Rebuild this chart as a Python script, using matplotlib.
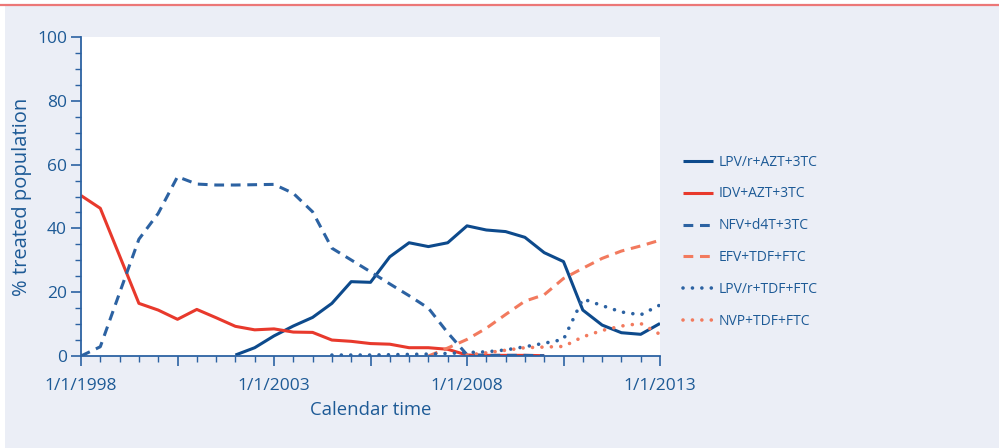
import numpy as np
import matplotlib
matplotlib.use("Agg")
import matplotlib.pyplot as plt
from matplotlib.lines import Line2D
from matplotlib.patches import Rectangle

nan = np.nan

# half-yearly time points, 1/1/1998 .. 1/1/2013
years = [1998 + 0.5 * i for i in range(31)]

lpv_azt = [nan] * 8 + [0.3, 2.6, 6.3, 9.4, 12.1, 16.5, 23.3, 23.1, 31.1, 35.5, 34.3, 35.5,
                       40.8, 39.5, 39.0, 37.2, 32.4, 29.6, 14.4, 9.7, 7.3, 6.8, 10.2]
idv_azt = [50.3, 46.3, 31.4, 16.5, 14.4, 11.5, 14.6, 12.0, 9.3, 8.2, 8.5, 7.5, 7.4, 5.0, 4.6,
           3.9, 3.7, 2.6, 2.6, 2.1, 0.3, 0.2, 0.2, 0.2, 0.1] + [nan] * 6
nfv_d4t = [0.0, 2.9, 19.8, 36.6, 44.7, 56.2, 53.9, 53.6, 53.6, 53.7, 53.8, 51.0, 45.2, 33.8,
           30.1, 26.4, 22.6, 18.9, 15.0, 7.3, 0.4, 0.2, 0.2, 0.2, 0.1] + [nan] * 6
efv_tdf = [nan] * 18 + [0.0, 2.5, 5.2, 8.7, 13.0, 17.2, 19.2, 24.3, 27.5, 30.6, 32.9, 34.5, 36.3]
lpv_tdf = [nan] * 13 + [0.3, 0.3, 0.3, 0.4, 0.5, 0.6, 0.8, 1.1, 1.3, 1.9, 2.9, 4.0, 5.2, 17.9,
                        15.8, 13.8, 12.9, 16.0]
nvp_tdf = [nan] * 20 + [0.3, 1.0, 1.8, 2.6, 2.8, 3.0, 6.0, 8.0, 9.4, 10.2, 6.8]

labels = ["LPV/r+AZT+3TC", "IDV+AZT+3TC", "NFV+d4T+3TC",
          "EFV+TDF+FTC", "LPV/r+TDF+FTC", "NVP+TDF+FTC"]

plt.rcParams['font.family'] = ['Open Sans', 'DejaVu Sans']
txt = '#1d5a96'
bg = '#ebeef6'
darkblue = '#0d4a8c'
blue = '#2c62a2'
red = '#e8392c'
salmon = '#f27a5e'

fig = plt.figure(figsize=(9.99, 4.48), dpi=100, facecolor=bg)
# white top strip and salmon rule
fig.patches.append(Rectangle((0, 1 - 4 / 448), 1, 4 / 448, transform=fig.transFigure,
                             facecolor='white', edgecolor='none', zorder=0))
fig.patches.append(Rectangle((0, 0), 5 / 999, 1, transform=fig.transFigure,
                             facecolor='white', edgecolor='none', zorder=0))
fig.add_artist(Line2D([0, 1], [1 - 5 / 448, 1 - 5 / 448], transform=fig.transFigure,
                      color='#ec7777', lw=1.6))

ax = fig.add_axes([81 / 999, 92 / 448, 579 / 999, 319 / 448])
ax.set_facecolor('white')

x = np.array(years)
ax.plot(x, lpv_azt, color=darkblue, lw=2.2, label=labels[0], solid_capstyle='butt')
ax.plot(x, idv_azt, color=red, lw=2.2, label=labels[1], solid_capstyle='butt')
ax.plot(x, nfv_d4t, color=blue, lw=2.2, ls=(0, (3.2, 2.2)), label=labels[2])
ax.plot(x, efv_tdf, color=salmon, lw=2.2, ls=(0, (3.2, 2.2)), label=labels[3])
ax.plot(x, lpv_tdf, color=blue, lw=2.6, ls=(0, (0.01, 2.6)), dash_capstyle='round',
        label=labels[4])
ax.plot(x, nvp_tdf, color=salmon, lw=2.6, ls=(0, (0.01, 2.6)), dash_capstyle='round',
        label=labels[5])

ax.set_xlim(1998, 2013)
ax.set_ylim(0, 100)

major_x = [1998 + 2.5 * k for k in range(7)]
ax.set_xticks(major_x)
ax.set_xticklabels(['1/1/%d' % int(v) if v % 5 == 3 else '' for v in major_x])
ax.set_xticks(years, minor=True)
ax.set_yticks(range(0, 101, 20))
ax.set_yticks(range(0, 101, 5), minor=True)

for s in ['top', 'right']:
    ax.spines[s].set_visible(False)
for s in ['left', 'bottom']:
    ax.spines[s].set_color(blue)
    ax.spines[s].set_linewidth(1.3)

ax.tick_params(which='major', length=7, width=1.2, color=blue, labelcolor=txt,
               labelsize=12.5)
ax.tick_params(which='minor', length=4, width=1.0, color=blue)
ax.tick_params(axis='x', which='major', pad=9)
ax.tick_params(axis='y', which='major', pad=3)

ax.set_xlabel('Calendar time', color=txt, fontsize=13.3, labelpad=5)
ax.set_ylabel('% treated population', color=txt, fontsize=14.5, labelpad=4)

leg = ax.legend(loc='upper left', bbox_to_anchor=(670 / 999, 1 - 142 / 448),
                bbox_transform=fig.transFigure, frameon=False, fontsize=10,
                handlelength=2.2, handletextpad=0.4, labelspacing=1.22,
                labelcolor=txt)

fig.savefig('out.png', dpi=100, facecolor=bg)
